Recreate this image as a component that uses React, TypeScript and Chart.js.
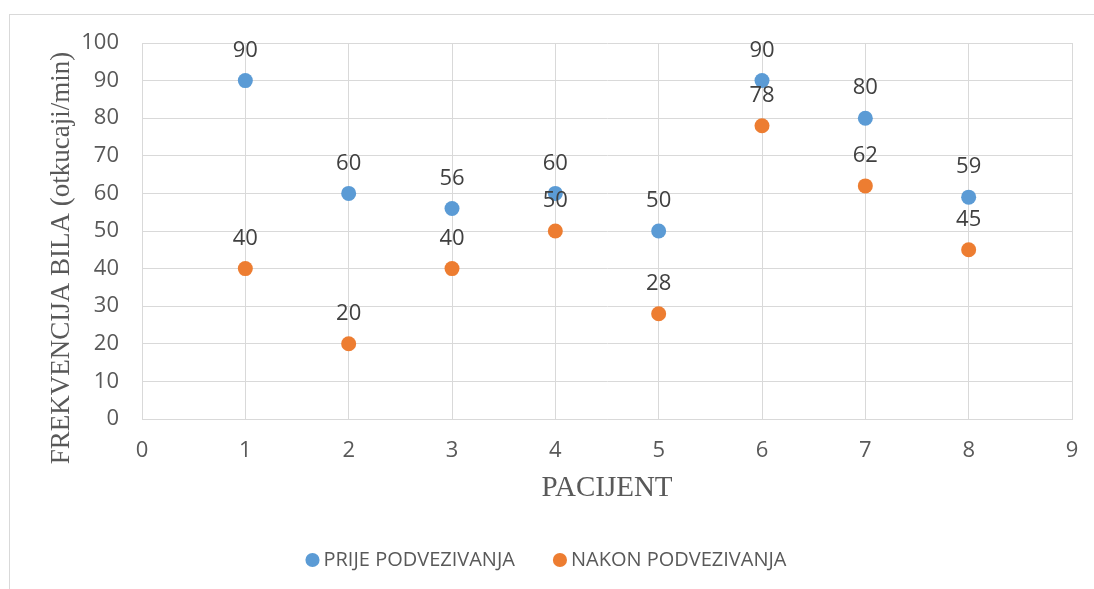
import React, { useEffect, useRef } from "react";
import { Chart, registerables } from "chart.js";

Chart.register(...registerables);

const patients = [1, 2, 3, 4, 5, 6, 7, 8];
const prijeValues = [90, 60, 56, 60, 50, 90, 80, 59];
const nakonValues = [40, 20, 40, 50, 28, 78, 62, 45];
const seriesNames = ["PRIJE PODVEZIVANJA", "NAKON PODVEZIVANJA"];
const xTitle = "PACIJENT";
const yTitle = "FREKVENCIJA BILA (otkucaji/min)";

const BLUE = "#5B9BD5";
const ORANGE = "#ED7D31";
const GRID = "#d9d9d9";
const TICK = "#595959";
const FONT = "'Open Sans', sans-serif";
const SERIF = "'Liberation Serif', 'Times New Roman', serif";

const labelPlugin = {
  id: "pointLabels",
  afterDatasetsDraw(chart: any) {
    const ctx = chart.ctx;
    ctx.save();
    ctx.font = `22px ${FONT}`;
    ctx.fillStyle = "#404040";
    ctx.textAlign = "center";
    ctx.textBaseline = "middle";
    chart.data.datasets.forEach((ds: any, i: number) => {
      const meta = chart.getDatasetMeta(i);
      meta.data.forEach((pt: any, j: number) => {
        ctx.fillText(String(ds.data[j].y), pt.x, pt.y - 30);
      });
    });
    ctx.restore();
  },
  afterDraw(chart: any) {
    const ctx = chart.ctx;
    ctx.save();
    ctx.font = `27px ${SERIF}`;
    ctx.fillStyle = TICK;
    ctx.textAlign = "center";
    ctx.textBaseline = "middle";
    ctx.translate(62, 258);
    ctx.rotate(-Math.PI / 2);
    ctx.fillText(yTitle, 0, 0);
    ctx.restore();
  },
};

export default function App() {
  const ref = useRef<HTMLCanvasElement | null>(null);
  useEffect(() => {
    if (!ref.current) return;
    Chart.defaults.font.family = FONT;
    const chart = new Chart(ref.current, {
      type: "scatter",
      data: {
        datasets: [
          {
            label: seriesNames[0],
            data: patients.map((x, i) => ({ x, y: prijeValues[i] })),
            backgroundColor: BLUE,
            borderColor: BLUE,
            borderWidth: 0,
            pointRadius: 7.5,
          },
          {
            label: seriesNames[1],
            data: patients.map((x, i) => ({ x, y: nakonValues[i] })),
            backgroundColor: ORANGE,
            borderColor: ORANGE,
            borderWidth: 0,
            pointRadius: 7.5,
          },
        ],
      },
      options: {
        animation: false,
        responsive: false,
        events: [],
        layout: { padding: { top: 43, left: 26, right: 22, bottom: 9 } },
        plugins: {
          tooltip: { enabled: false },
          legend: {
            position: "bottom",
            labels: {
              usePointStyle: true,
              pointStyle: "circle",
              boxWidth: 2,
              boxHeight: 10,
              padding: 44,
              color: TICK,
              font: { size: 20, family: FONT },
            },
          },
        },
        scales: {
          x: {
            type: "linear",
            min: 0,
            max: 9,
            ticks: { stepSize: 1, color: TICK, font: { size: 22 }, padding: 0 },
            grid: {
              color: GRID,
              drawTicks: true,
              tickLength: 19,
              tickColor: "rgba(0,0,0,0)",
            },
            border: { color: GRID },
            title: {
              display: true,
              text: xTitle,
              color: TICK,
              font: { size: 29, family: SERIF },
              padding: { top: 0, bottom: 0 },
            },
            afterFit: (s: any) => {
              s.height = 87;
            },
          },
          y: {
            min: 0,
            max: 100,
            ticks: { stepSize: 10, color: TICK, font: { size: 22 }, padding: 23 },
            grid: { color: GRID, drawTicks: false },
            border: { color: GRID },
            afterFit: (s: any) => {
              s.width = 116;
            },
          },
        },
      },
      plugins: [labelPlugin],
    });
    return () => chart.destroy();
  }, []);

  return (
    <div
      style={{
        position: "fixed",
        left: 0,
        top: 0,
        width: 1094,
        height: 589,
        overflow: "hidden",
        background: "#fff",
      }}
    >
      <div
        style={{
          position: "absolute",
          left: 9,
          top: 14,
          width: 2000,
          height: 2000,
          border: "1px solid #d9d9d9",
        }}
      />
      <canvas
        ref={ref}
        width={1094}
        height={589}
        style={{ position: "absolute", left: 0, top: 0, width: 1094, height: 589 }}
      />
    </div>
  );
}
